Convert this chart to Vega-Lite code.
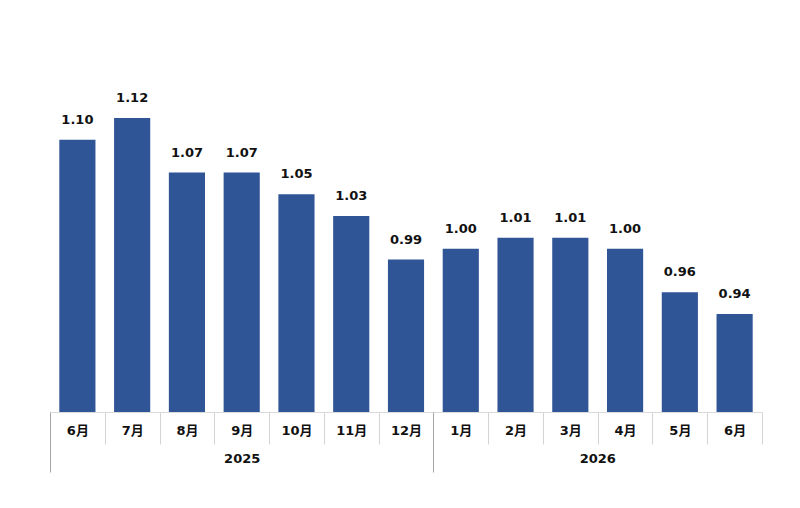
{
  "$schema": "https://vega.github.io/schema/vega-lite/v6.json",
  "autosize": "none",
  "padding": {"left": 50, "top": 31, "right": 38, "bottom": 96},
  "width": 712,
  "height": 381,
  "background": "white",
  "config": {
    "view": {"stroke": "transparent"},
    "font": "DejaVu Sans, Noto Sans CJK JP"
  },
  "data": {
    "values": [
      {"ym": "2025-06", "year": "2025", "month": "6月", "value": 1.10},
      {"ym": "2025-07", "year": "2025", "month": "7月", "value": 1.12},
      {"ym": "2025-08", "year": "2025", "month": "8月", "value": 1.07},
      {"ym": "2025-09", "year": "2025", "month": "9月", "value": 1.07},
      {"ym": "2025-10", "year": "2025", "month": "10月", "value": 1.05},
      {"ym": "2025-11", "year": "2025", "month": "11月", "value": 1.03},
      {"ym": "2025-12", "year": "2025", "month": "12月", "value": 0.99},
      {"ym": "2026-01", "year": "2026", "month": "1月", "value": 1.00},
      {"ym": "2026-02", "year": "2026", "month": "2月", "value": 1.01},
      {"ym": "2026-03", "year": "2026", "month": "3月", "value": 1.01},
      {"ym": "2026-04", "year": "2026", "month": "4月", "value": 1.00},
      {"ym": "2026-05", "year": "2026", "month": "5月", "value": 0.96},
      {"ym": "2026-06", "year": "2026", "month": "6月", "value": 0.94}
    ]
  },
  "resolve": {"axis": {"x": "independent"}},
  "layer": [
    {
      "mark": {"type": "bar", "color": "#2F5597", "width": {"band": 0.66}},
      "encoding": {
        "x": {
          "field": "ym",
          "type": "ordinal",
          "sort": null,
          "scale": {"paddingInner": 0, "paddingOuter": 0},
          "axis": {
            "orient": "bottom",
            "title": null,
            "labelAngle": 0,
            "labelExpr": "datum.label ? replace(datum.label, /^\\d{4}-0?/, '') + '月' : ''",
            "labelFont": "DejaVu Sans, Noto Sans CJK JP",
            "labelFontSize": 13,
            "labelFontWeight": "bold",
            "labelColor": "#111111",
            "labelPadding": -20,
            "labelOverlap": false,
            "tickBand": "extent",
            "tickSize": 32,
            "tickColor": "#d4d4d4",
            "domainColor": "#d9d9d9",
            "grid": false
          }
        },
        "y": {
          "field": "value",
          "type": "quantitative",
          "scale": {"domain": [0.85, 1.2], "zero": false, "nice": false},
          "axis": null
        },
        "y2": {"datum": 0.85}
      }
    },
    {
      "mark": {
        "type": "text",
        "dy": -20,
        "fontSize": 13,
        "fontWeight": "bold",
        "color": "#111111",
        "font": "DejaVu Sans"
      },
      "encoding": {
        "x": {
          "field": "ym",
          "type": "ordinal",
          "sort": null,
          "axis": {
            "orient": "bottom",
            "title": null,
            "labelAngle": 0,
            "labelExpr": "datum.label == '2025-09' ? '2025' : datum.label == '2026-03' ? '2026' : ''",
            "labelFont": "DejaVu Sans",
            "labelFontSize": 13,
            "labelFontWeight": "bold",
            "labelColor": "#111111",
            "labelPadding": -20,
            "labelOverlap": false,
            "labelOffset": {"condition": {"test": "datum.label == '2026-03'", "value": 27}, "value": 0},
            "tickBand": "extent",
            "tickSize": 60,
            "tickColor": "#a6a6a6",
            "tickOpacity": {"condition": {"test": "datum.label == '2025-12' || !datum.label", "value": 1}, "value": 0},
            "domain": false,
            "grid": false
          }
        },
        "y": {"field": "value", "type": "quantitative"},
        "text": {"field": "value", "type": "quantitative", "format": ".2f"}
      }
    }
  ]
}
